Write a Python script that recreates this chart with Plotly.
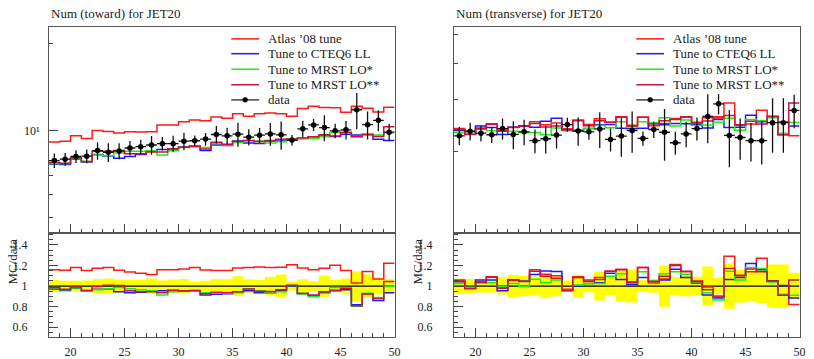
import plotly.graph_objects as go

# ---------------- data ----------------
bin_edges = list(range(18, 51))
bin_centres = [e + 0.5 for e in range(18, 50)]

tune_names = ["Atlas \u201908 tune", "Tune to CTEQ6 LL", "Tune to MRST LO*", "Tune to MRST LO**"]
tune_colors = ["#ff1a1a", "#1a1aff", "#1aee1a", "#d0103f"]

# Num (toward)
toward_data = [7.89, 7.98, 8.15, 8.17, 8.54, 8.43, 8.51, 8.72, 8.81, 8.93, 9.03, 9.03, 9.21, 9.24, 9.36, 9.71,
               9.61, 9.74, 9.51, 9.66, 9.76, 9.69, 9.29, 10.16, 10.48, 10.26, 10.0, 10.08, 11.83, 10.5, 10.87, 9.89]
toward_relerr = [0.058, 0.051, 0.051, 0.054, 0.070, 0.074, 0.064, 0.058, 0.058, 0.074, 0.054, 0.064, 0.070, 0.042, 0.051, 0.070,
                 0.067, 0.096, 0.064, 0.058, 0.090, 0.112, 0.042, 0.067, 0.048, 0.103, 0.058, 0.074, 0.144, 0.112, 0.083, 0.070]
toward_ratio_atlas = [1.160, 1.154, 1.180, 1.151, 1.173, 1.180, 1.154, 1.138, 1.125, 1.112, 1.160, 1.160, 1.167, 1.180, 1.157, 1.151,
                      1.151, 1.176, 1.180, 1.186, 1.180, 1.183, 1.208, 1.176, 1.160, 1.173, 1.202, 1.151, 1.029, 1.141, 1.070, 1.221]
toward_ratio_cteq = [0.970, 0.958, 0.978, 0.955, 0.970, 0.970, 0.945, 0.935, 0.940, 0.952, 0.955, 0.958, 0.955, 0.958, 0.913, 0.920,
                     0.925, 0.946, 0.955, 0.935, 0.945, 0.960, 1.000, 0.925, 0.910, 0.935, 0.955, 0.965, 0.818, 0.925, 0.860, 0.936]
toward_ratio_mrst1 = [0.975, 0.965, 0.982, 0.958, 0.965, 0.972, 0.985, 0.975, 0.965, 0.955, 0.913, 0.945, 0.950, 0.955, 0.935, 0.930,
                      0.930, 0.935, 0.975, 0.955, 0.930, 0.945, 1.006, 0.925, 0.897, 0.930, 0.987, 0.980, 0.805, 0.930, 0.890, 0.996]
toward_ratio_mrst2 = [0.984, 0.968, 0.990, 0.958, 0.995, 1.008, 1.005, 0.955, 0.945, 0.945, 0.935, 0.960, 0.952, 0.955, 0.925, 0.940,
                      0.935, 0.945, 0.972, 0.950, 0.948, 0.965, 1.008, 0.930, 0.910, 0.945, 0.960, 0.978, 0.808, 0.923, 0.880, 1.045]

# Num (transverse)
trans_data = [2.264, 2.346, 2.310, 2.282, 2.396, 2.288, 2.336, 2.178, 2.212, 2.276, 2.472, 2.352, 2.336, 2.390, 2.200, 2.258,
              2.360, 2.218, 2.378, 2.328, 2.144, 2.298, 2.396, 2.636, 2.908, 2.270, 2.234, 2.178, 2.178, 2.510, 2.510, 2.762]
trans_relerr = [0.072, 0.068, 0.062, 0.062, 0.083, 0.110, 0.100, 0.093, 0.110, 0.100, 0.054, 0.110, 0.060, 0.140, 0.090, 0.150,
                0.160, 0.056, 0.065, 0.200, 0.090, 0.100, 0.090, 0.190, 0.080, 0.220, 0.160, 0.150, 0.170, 0.210, 0.210, 0.130]
trans_ratio_atlas = [1.058, 0.978, 1.042, 1.090, 0.987, 1.058, 1.048, 1.160, 1.115, 1.100, 0.968, 1.090, 1.058, 1.083, 1.144, 1.163,
                     1.042, 1.180, 1.030, 1.070, 1.210, 1.140, 1.050, 0.990, 0.904, 1.290, 1.100, 1.140, 1.270, 1.050, 0.910, 0.820]
trans_ratio_cteq = [1.042, 0.978, 1.058, 1.058, 0.955, 1.058, 1.048, 1.112, 1.147, 1.141, 0.955, 1.000, 1.026, 1.032, 1.125, 1.064,
                    1.016, 1.083, 1.050, 1.060, 1.163, 1.083, 1.030, 0.913, 0.885, 1.064, 1.083, 1.220, 1.160, 1.050, 1.005, 0.885]
trans_ratio_mrst1 = [1.026, 0.985, 1.032, 1.032, 0.994, 1.026, 0.994, 1.067, 1.032, 1.058, 0.960, 1.010, 1.026, 1.026, 1.096, 1.120,
                     1.030, 1.140, 1.055, 1.120, 1.140, 1.115, 1.040, 0.935, 0.865, 1.144, 1.058, 1.180, 1.170, 1.040, 0.920, 0.910]
trans_ratio_mrst2 = [1.050, 0.975, 1.035, 1.085, 0.980, 1.055, 1.045, 1.145, 1.096, 1.075, 0.960, 1.083, 1.048, 1.065, 1.144, 1.160,
                     1.035, 1.180, 1.045, 1.095, 1.200, 1.144, 1.045, 0.965, 0.895, 1.170, 1.105, 1.165, 1.140, 1.050, 0.910, 1.060]

panels = [
    dict(title="Num (toward) for JET20", data=toward_data, relerr=toward_relerr,
         ratios=[toward_ratio_atlas, toward_ratio_cteq, toward_ratio_mrst1, toward_ratio_mrst2]),
    dict(title="Num (transverse) for JET20", data=trans_data, relerr=trans_relerr,
         ratios=[trans_ratio_atlas, trans_ratio_cteq, trans_ratio_mrst1, trans_ratio_mrst2]),
]

# ---------------- layout geometry (pixels) ----------------
W, H = 814, 359
FONT = "Liberation Serif"
panel_x = [(49.3, 397.5), (457.3, 805.5)]
main_y = (27, 236)
ratio_y = (236, 341)


def px(x):
    return x / W


def py(y):
    return 1 - y / H


def step(vals):
    return list(vals) + [vals[-1]]


fig = go.Figure()
axis_frame = dict(showline=True, linecolor="#555555", linewidth=1, mirror=True, showgrid=False,
                  zeroline=False, ticks="inside", tickcolor="#444444", tickwidth=1)

for k, p in enumerate(panels):
    xm = "x" if k == 0 else "x3"
    ym = "y" if k == 0 else "y3"
    xr = "x2" if k == 0 else "x4"
    yr = "y2" if k == 0 else "y4"
    data = p["data"]
    err = [d * e for d, e in zip(data, p["relerr"])]

    # ratio band
    fig.add_trace(go.Scatter(x=bin_edges, y=step([1 - e for e in p["relerr"]]), xaxis=xr, yaxis=yr,
                             mode="lines", line=dict(width=0, shape="hv", color="rgba(0,0,0,0)"),
                             showlegend=False, hoverinfo="skip"))
    fig.add_trace(go.Scatter(x=bin_edges, y=step([1 + e for e in p["relerr"]]), xaxis=xr, yaxis=yr,
                             mode="lines", line=dict(width=0, shape="hv", color="rgba(0,0,0,0)"),
                             fill="tonexty", fillcolor="#ffff00", showlegend=False, hoverinfo="skip"))
    fig.add_trace(go.Scatter(x=[bin_edges[0], bin_edges[-1]], y=[1, 1], xaxis=xr, yaxis=yr, mode="lines",
                             line=dict(color="black", width=1.2), showlegend=False))

    for name, col, ratio in zip(tune_names, tune_colors, p["ratios"]):
        mc = [r * d for r, d in zip(ratio, data)]
        fig.add_trace(go.Scatter(x=bin_edges, y=step(mc), xaxis=xm, yaxis=ym, mode="lines",
                                 line=dict(color=col, width=1.5, shape="hv"), name=name, showlegend=False))
        fig.add_trace(go.Scatter(x=bin_edges, y=step(ratio), xaxis=xr, yaxis=yr, mode="lines",
                                 line=dict(color=col, width=1.5, shape="hv"), name=name, showlegend=False))

    fig.add_trace(go.Scatter(x=bin_centres, y=data, xaxis=xm, yaxis=ym, mode="markers",
                             marker=dict(color="black", size=5.5),
                             error_y=dict(type="data", array=err, color="#111111", thickness=1.3, width=0),
                             error_x=dict(type="constant", value=0.5, color="#111111", thickness=1.3, width=0),
                             name="data", showlegend=False))

    x0, x1 = panel_x[k]
    dom_x = [px(x0), px(x1)]
    sfx_m = "" if k == 0 else "3"
    sfx_r = "2" if k == 0 else "4"

    fig.layout["xaxis" + sfx_m] = dict(axis_frame, domain=dom_x, anchor="y" + sfx_m, range=[18, 50],
                                       tickmode="linear", tick0=20, dtick=5, ticklen=9, showticklabels=False,
                                       minor=dict(ticks="inside", dtick=1, tick0=18, ticklen=4.5, tickcolor="#444444"),
                                       matches="x" + sfx_r)
    fig.layout["xaxis" + sfx_r] = dict(axis_frame, domain=dom_x, anchor="y" + sfx_r, range=[18, 50],
                                       tickmode="linear", tick0=20, dtick=5, ticklen=9,
                                       tickfont=dict(family=FONT, size=12, color="#222222"),
                                       ticklabelstandoff=3,
                                       minor=dict(ticks="inside", dtick=1, tick0=18, ticklen=4.5, tickcolor="#444444"))
    if k == 0:
        ymain = dict(axis_frame, domain=[py(main_y[1]), py(main_y[0])], anchor="x", type="log",
                     range=[0.6449, 1.3606], tickmode="array", tickvals=[10], ticktext=["10\u00b9"],
                     ticklen=9, tickfont=dict(family=FONT, size=12, color="#222222"), ticklabelstandoff=6,
                     minor=dict(ticks="inside", tickmode="array", tickvals=[5, 6, 7, 20], ticklen=4.5,
                                tickcolor="#444444"))
    else:
        ymain = dict(axis_frame, domain=[py(main_y[1]), py(main_y[0])], anchor="x3", type="log",
                     range=[0.0226, 0.7263], tickmode="array", tickvals=[2, 3, 4, 5],
                     ticklen=4.5, showticklabels=False)
    fig.layout["yaxis" + sfx_m] = ymain
    fig.layout["yaxis" + sfx_r] = dict(axis_frame, domain=[py(ratio_y[1]), py(ratio_y[0])], anchor="x" + sfx_r,
                                       range=[0.503, 1.5125], tickmode="linear", tick0=0.6, dtick=0.2, ticklen=9,
                                       tickfont=dict(family=FONT, size=12, color="#222222"), ticklabelstandoff=18,
                                       minor=dict(ticks="inside", dtick=0.05, tick0=0.5, ticklen=4.5,
                                                  tickcolor="#444444"))

    # title
    fig.add_annotation(x=px(x0), y=py(14), xref="paper", yref="paper", text=p["title"], showarrow=False,
                       xanchor="left", yanchor="middle", font=dict(family=FONT, size=13, color="#222222"))
    # y label of ratio
    fig.add_annotation(x=px(x0 - 37), y=py(239), xref="paper", yref="paper", text="MC/data", showarrow=False,
                       textangle=-90, xanchor="center", yanchor="top", font=dict(family=FONT, size=13, color="#222222"))

    # legend
    off = x0 - 49.3
    ly = [39.3, 54.3, 70.0, 85.7, 101.0]
    for i, (name, col) in enumerate(zip(tune_names, tune_colors)):
        fig.add_shape(type="line", xref="paper", yref="paper", x0=px(233 + off), x1=px(261 + off),
                      y0=py(ly[i]), y1=py(ly[i]), line=dict(color=col, width=1.5))
        fig.add_annotation(x=px(268 + off), y=py(ly[i]), xref="paper", yref="paper", text=name, showarrow=False,
                           xanchor="left", yanchor="middle", font=dict(family=FONT, size=13, color="#222222"))
    fig.add_shape(type="line", xref="paper", yref="paper", x0=px(233 + off), x1=px(261 + off),
                  y0=py(ly[4]), y1=py(ly[4]), line=dict(color="#444444", width=1.5))
    fig.add_shape(type="circle", xref="paper", yref="paper", x0=px(244.5 + off), x1=px(249.5 + off),
                  y0=py(ly[4] + 2.5), y1=py(ly[4] - 2.5), fillcolor="black", line=dict(color="black", width=0.5))
    fig.add_annotation(x=px(268 + off), y=py(ly[4]), xref="paper", yref="paper", text="data", showarrow=False,
                       xanchor="left", yanchor="middle", font=dict(family=FONT, size=13, color="#222222"))

fig.update_layout(width=W, height=H, margin=dict(l=0, r=0, t=0, b=0), paper_bgcolor="white",
                  plot_bgcolor="white", showlegend=False)
fig.write_html("out.html")
